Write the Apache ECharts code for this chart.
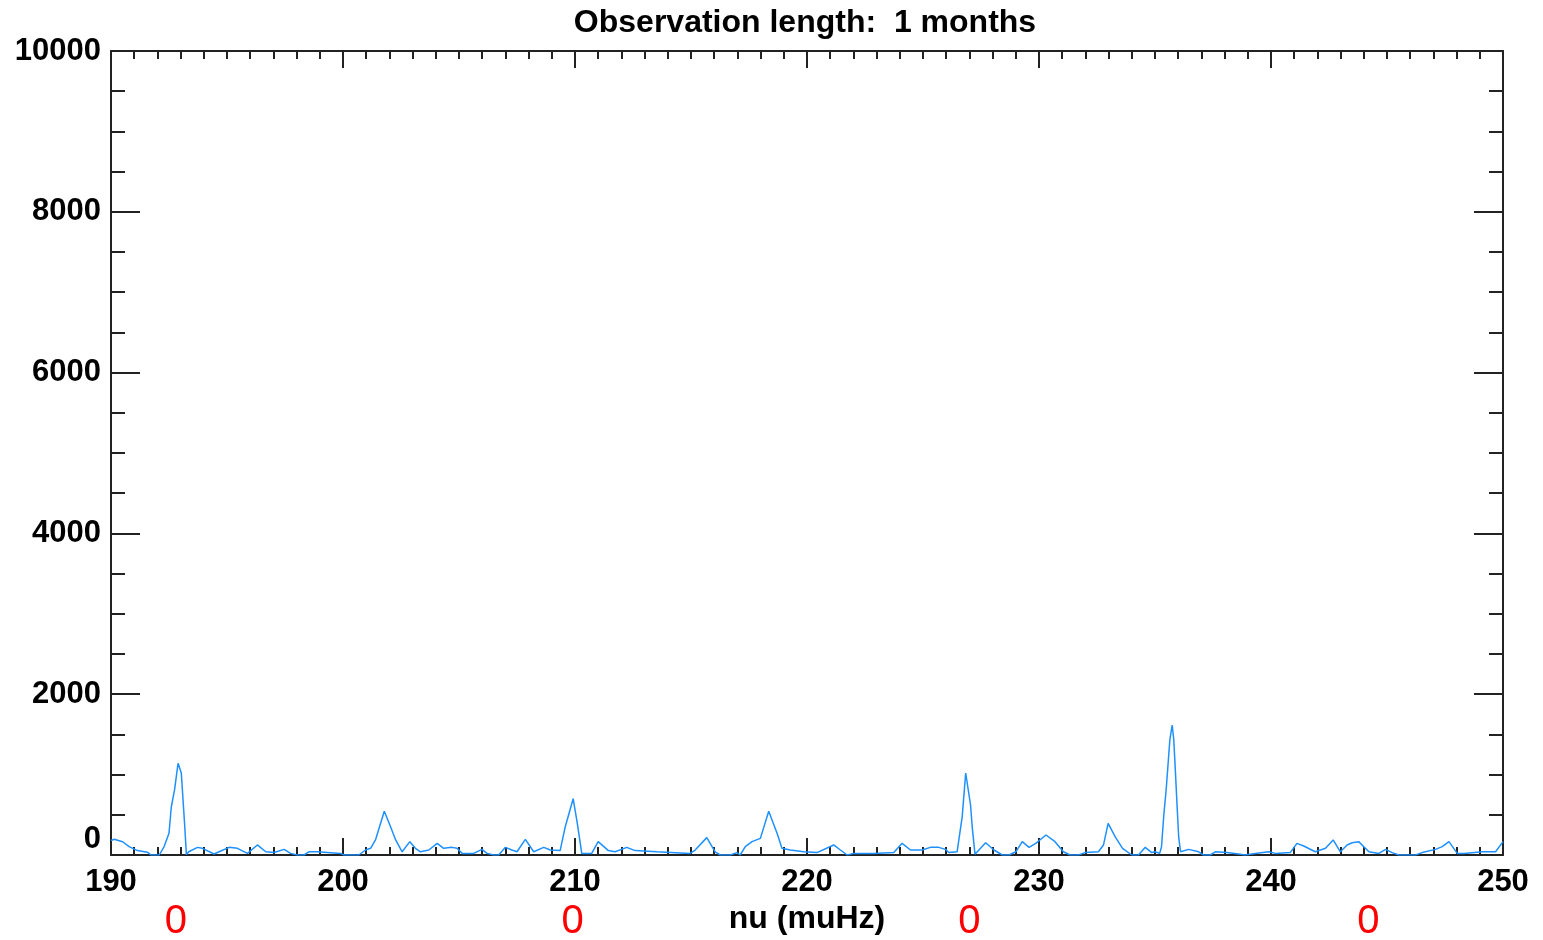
<!DOCTYPE html>
<html>
<head>
<meta charset="utf-8">
<script src="https://cdn.jsdelivr.net/npm/echarts@6/dist/echarts.min.js"></script>
<style>
  html, body { margin: 0; padding: 0; background: #fff; }
  #chart { width: 1543px; height: 940px; }
</style>
</head>
<body>
<div id="chart"></div>
<script>
// power spectrum: frequency (muHz) and power
const freq = [
  190.0, 190.14, 190.5, 190.78, 191.14, 191.57, 191.72, 192.08, 192.29, 192.5,
  192.6, 192.74, 192.89, 193.03, 193.17, 193.25, 193.35, 193.73, 193.94, 194.44,
  194.66, 195.09, 195.45, 195.88, 196.31, 196.67, 197.03, 197.46, 197.74, 198.03,
  198.32, 198.53, 198.89, 198.96, 199.9, 200.04, 200.68, 200.97, 201.19, 201.4,
  201.78, 202.05, 202.27, 202.55, 202.88, 203.12, 203.34, 203.7, 204.06, 204.34,
  204.7, 204.92, 205.13, 205.63, 205.99, 206.21, 206.5, 206.71, 207.0, 207.28,
  207.5, 207.86, 208.22, 208.65, 208.94, 209.36, 209.58, 209.92, 210.1, 210.29,
  210.72, 211.0, 211.44, 211.73, 212.23, 212.59, 213.53, 214.96, 215.18, 215.68,
  216.04, 216.26, 216.69, 216.98, 217.12, 217.34, 217.63, 217.99, 218.35, 218.71,
  218.92, 219.28, 219.86, 220.43, 221.15, 221.44, 221.73, 222.01, 222.88, 223.74,
  224.1, 224.46, 224.96, 225.32, 225.68, 225.97, 226.11, 226.47, 226.69, 226.84,
  227.05, 227.12, 227.24, 227.7, 228.06, 228.42, 228.71, 229.0, 229.28, 229.57,
  229.86, 230.3, 230.69, 231.05, 231.34, 231.7, 231.99, 232.56, 232.78, 232.98,
  233.28, 233.6, 234.0, 234.29, 234.58, 234.86, 235.01, 235.2, 235.28, 235.38,
  235.48, 235.56, 235.64, 235.74, 235.81, 235.88, 235.95, 236.02, 236.1, 236.16,
  236.45, 236.88, 237.09, 237.38, 237.6, 238.1, 238.6, 238.89, 239.32, 239.9,
  240.19, 240.83, 241.12, 241.41, 241.91, 242.35, 242.68, 242.99, 243.28, 243.5,
  243.78, 244.22, 244.65, 244.94, 245.22, 245.51, 246.23, 246.52, 247.09, 247.38,
  247.67, 248.03, 248.32, 249.11, 249.68, 250.0
];
const power = [
  180, 195, 165, 105, 55, 35, 0, 0, 105, 270,
  600, 810, 1140, 1020, 398, 5, 40, 95, 83, 12,
  40, 95, 83, 20, 125, 40, 30, 70, 20, 0,
  0, 40, 40, 20, 20, 0, 0, 62, 83, 187,
  545, 352, 187, 40, 166, 83, 40, 62, 145, 83,
  95, 83, 20, 20, 70, 20, 0, 0, 95, 62,
  40, 195, 40, 95, 62, 55, 352, 700, 394, 20,
  20, 166, 55, 40, 95, 55, 40, 20, 62, 216,
  40, 0, 0, 30, 0, 104, 166, 207, 545, 270,
  83, 62, 40, 30, 125, 62, 0, 20, 20, 30,
  145, 62, 62, 95, 95, 70, 30, 40, 477, 1020,
  622, 352, 10, 153, 62, 0, 0, 40, 166, 95,
  145, 249, 166, 40, 0, 0, 30, 40, 125, 394,
  228, 83, 0, 0, 95, 30, 40, 20, 100, 498,
  809, 1120, 1431, 1617, 1431, 1036, 622, 228, 41, 55,
  70, 40, 0, 0, 40, 30, 12, 0, 20, 40,
  20, 30, 145, 112, 40, 83, 187, 40, 125, 153,
  166, 40, 20, 70, 30, 0, 0, 30, 70, 104,
  166, 20, 20, 40, 40, 166
];
// red mode labels under the axis
const modeFreq = [192.8, 209.9, 227.0, 244.2];
const modeLabel = ['0', '0', '0', '0'];

const titleText = 'Observation length:  1 months';
const xName = 'nu (muHz)';

const font = "'Liberation Sans', Arial, sans-serif";
const axisColor = '#222';

const chart = echarts.init(document.getElementById('chart'));

const baseX = {
  type: 'value', min: 190, max: 250, interval: 10,
  axisLine: { onZero: false, lineStyle: { color: axisColor, width: 2 } },
  axisTick: { inside: true, length: 17, lineStyle: { color: axisColor, width: 2 } },
  minorTick: { show: true, splitNumber: 10, length: 8, lineStyle: { color: axisColor, width: 2 } },
  splitLine: { show: false }
};
const baseY = {
  type: 'value', min: 0, max: 10000, interval: 2000,
  axisLine: { show: true, lineStyle: { color: axisColor, width: 2 } },
  axisTick: { show: true, inside: true, length: 29, lineStyle: { color: axisColor, width: 2 } },
  minorTick: { show: true, splitNumber: 4, length: 14, lineStyle: { color: axisColor, width: 2 } },
  splitLine: { show: false }
};

const option = {
  backgroundColor: '#fff',
  animation: false,
  grid: { left: 111, right: 40, top: 51, bottom: 85 },
  xAxis: [
    Object.assign({}, baseX, {
      position: 'bottom',
      name: xName, nameLocation: 'middle', nameGap: 46,
      nameTextStyle: { color: '#000', fontFamily: font, fontWeight: 'bold', fontSize: 32 },
      axisLabel: { color: '#000', fontFamily: font, fontWeight: 'bold', fontSize: 31, margin: 12,
        formatter: v => String(v) }
    }),
    Object.assign({}, baseX, { position: 'top', axisLabel: { show: false } })
  ],
  yAxis: [
    Object.assign({}, baseY, {
      position: 'left',
      axisLabel: { color: '#000', fontFamily: font, fontWeight: 'bold', fontSize: 31, margin: 10,
        verticalAlignMinLabel: 'bottom', formatter: v => String(v) }
    }),
    Object.assign({}, baseY, { position: 'right', axisLabel: { show: false } })
  ],
  series: [{
    type: 'line',
    data: freq.map((f, i) => [f, power[i]]),
    showSymbol: false,
    lineStyle: { color: '#1E90FF', width: 1.5 },
    z: 1
  }]
};
chart.setOption(option);

const graphics = [{
  type: 'text',
  style: { text: titleText, x: 805, y: 23, textAlign: 'center', textVerticalAlign: 'middle',
    fill: '#000', font: 'bold 32px ' + font }
}];
modeFreq.forEach((f, i) => {
  const px = chart.convertToPixel({ xAxisIndex: 0 }, f);
  graphics.push({
    type: 'text',
    style: { text: modeLabel[i], x: px, y: 922, textAlign: 'center', textVerticalAlign: 'middle',
      fill: '#ff0000', font: '40px ' + font }
  });
});
chart.setOption({ graphic: graphics });
</script>
</body>
</html>
